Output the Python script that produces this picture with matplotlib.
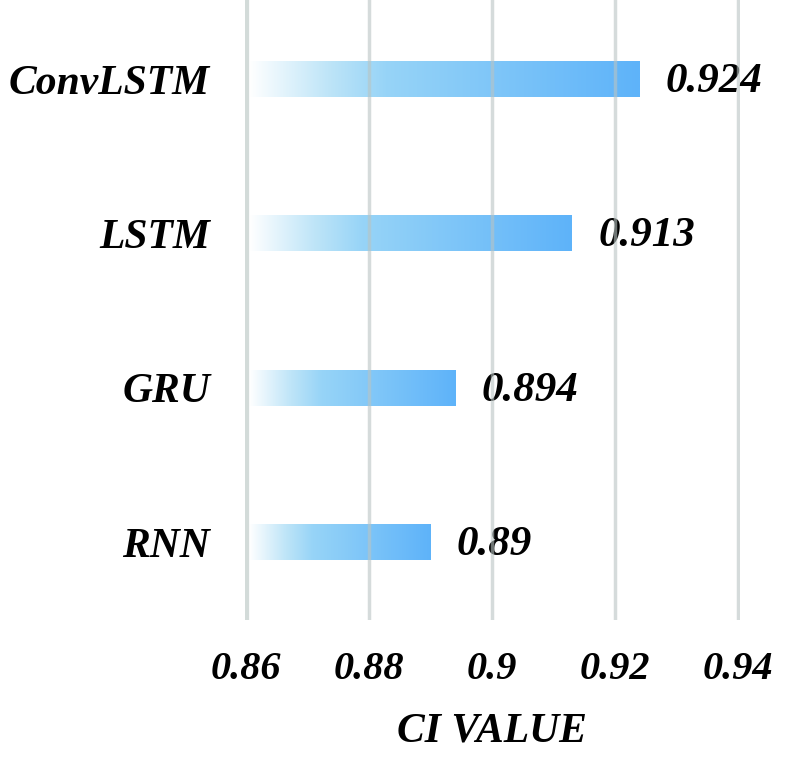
import numpy as np
import matplotlib
matplotlib.use("Agg")
from matplotlib import pyplot as plt
from matplotlib.colors import LinearSegmentedColormap

# data
models = ["RNN", "GRU", "LSTM", "ConvLSTM"]
ci_values = [0.89, 0.894, 0.913, 0.924]
value_labels = ["0.89", "0.894", "0.913", "0.924"]
xticks = [0.86, 0.88, 0.9, 0.92, 0.94]
xtick_labels = ["0.86", "0.88", "0.9", "0.92", "0.94"]

plt.rcParams['font.family'] = ['Liberation Serif', 'DejaVu Serif']
font = dict(weight='bold', style='italic')

fig = plt.figure(figsize=(7.87, 7.64), dpi=100)
ax = fig.add_axes([0.311, 0.188, 0.629, 0.812])

# gradient white -> light blue -> blue
cmap = LinearSegmentedColormap.from_list(
    "bar", [(0.0, "#ffffff"), (0.2, "#bfe5f8"), (0.35, "#97d4f7"), (1.0, "#5eb3fa")])
grad = np.linspace(0, 1, 256).reshape(1, -1)

x0 = 0.8605
h = 0.23
for i, v in enumerate(ci_values):
    ax.imshow(grad, cmap=cmap, aspect='auto', extent=[x0, v, i - h / 2, i + h / 2],
              zorder=1, interpolation='bilinear')
    ax.annotate(value_labels[i], xy=(v, i), xytext=(19, -2), textcoords='offset points',
                va='center', ha='left', fontsize=31, **font)

# gridlines drawn over the bars
for t in xticks[1:]:
    ax.axvline(t, color='#b9c4c3', lw=2.5, alpha=0.6, zorder=3)
ax.axvline(xticks[0], color='#d3dbd9', lw=4.5, zorder=3)

ax.set_xlim(0.8598, 0.9403)
ax.set_ylim(-0.506, 3.513)
ax.set_yticks(range(len(models)))
ax.set_yticklabels(models, fontsize=30, **font)
ax.set_xticks(xticks)
ax.set_xticklabels(xtick_labels, fontsize=29, **font)
ax.tick_params(length=0)
ax.tick_params(axis='y', pad=25)
ax.tick_params(axis='x', pad=22)
ax.set_xlabel("CI VALUE", fontsize=30, labelpad=18, **font)
for s in ax.spines.values():
    s.set_visible(False)

fig.savefig("out.png", dpi=100)
